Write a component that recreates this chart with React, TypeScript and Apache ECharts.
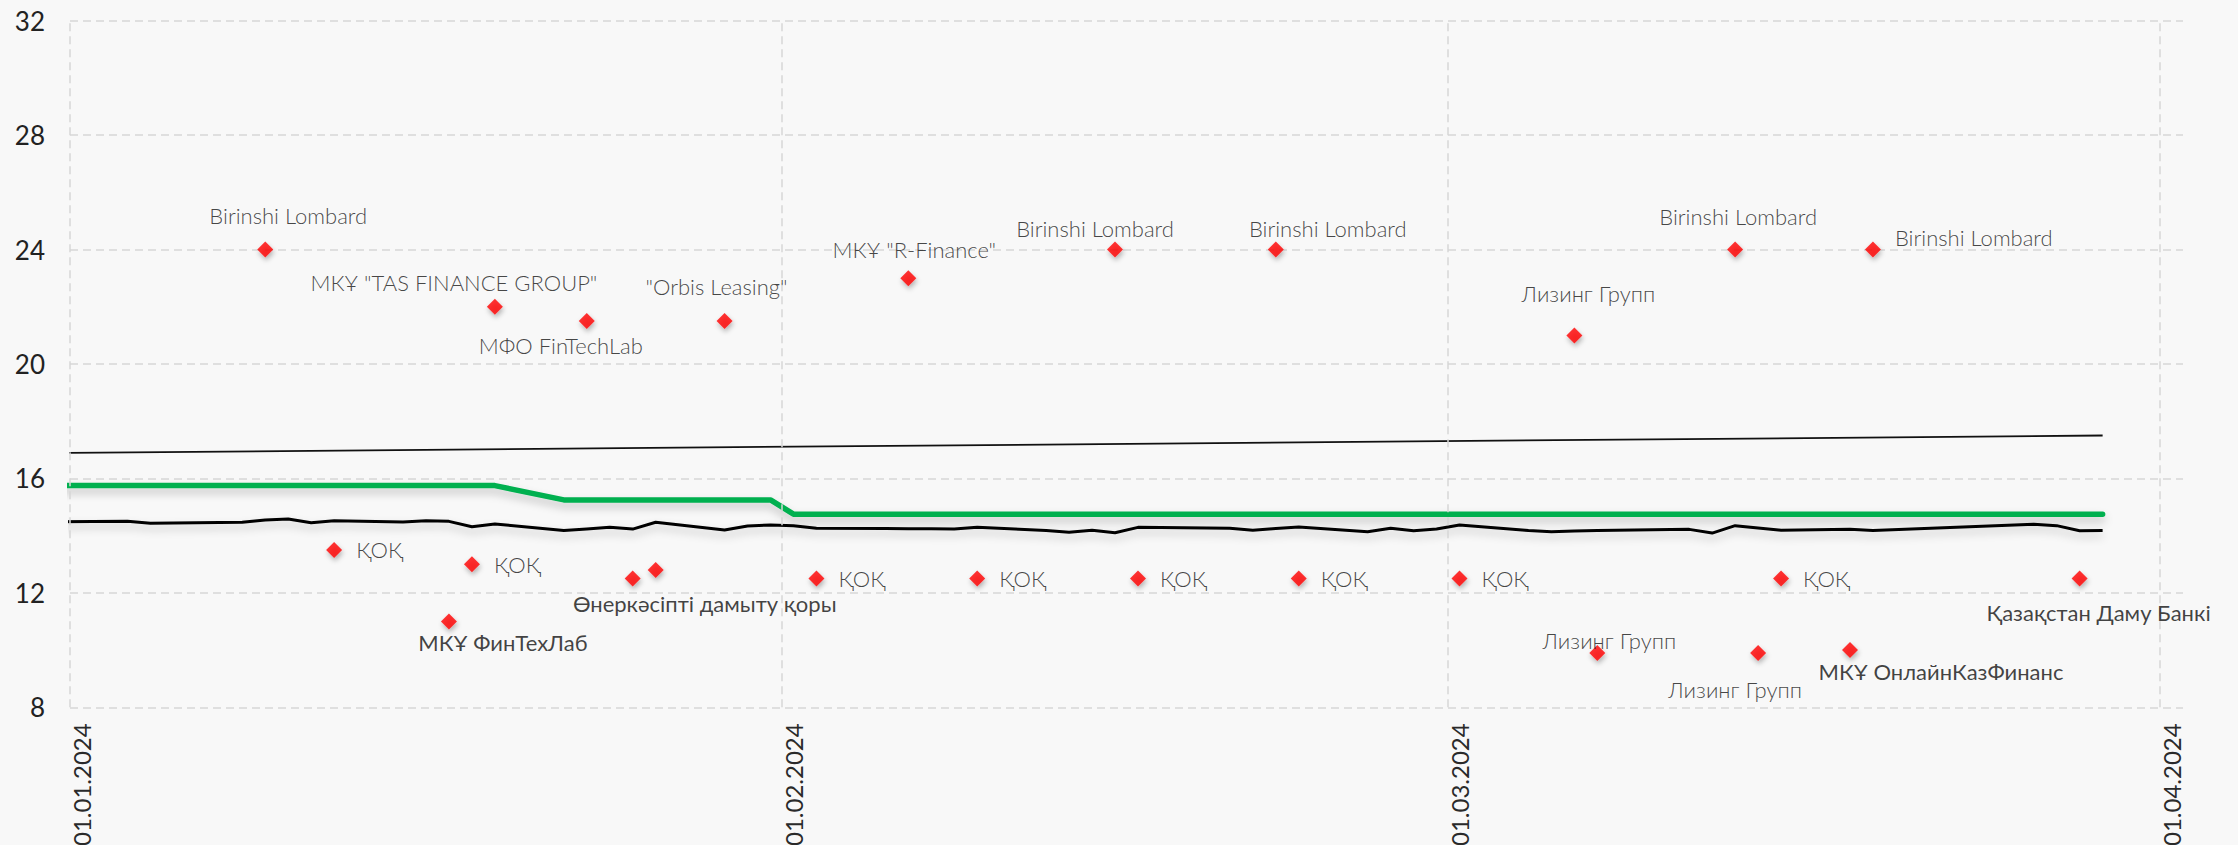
import React, { useEffect, useRef } from "react";
import * as echarts from "echarts";

// ---- axis categories: one per calendar day (31.12.2023 .. 01.04.2024) ----
const DAY = 86400000;
const firstDay = Date.UTC(2023, 11, 31);
const lastDay = Date.UTC(2024, 3, 1);
const axisStart = Date.UTC(2024, 0, 1);
const fmt = (t: number) => {
  const d = new Date(t);
  const dd = String(d.getUTCDate()).padStart(2, "0");
  const mm = String(d.getUTCMonth() + 1).padStart(2, "0");
  return `${dd}.${mm}.${d.getUTCFullYear()}`;
};
const dayCategories: string[] = [];
for (let t = firstDay; t <= lastDay; t += DAY) dayCategories.push(fmt(t));

// month boundaries drawn as vertical grid lines
const monthStarts = [Date.UTC(2024, 0, 1), Date.UTC(2024, 1, 1), Date.UTC(2024, 2, 1), Date.UTC(2024, 3, 1)];

const yTicks = [8, 12, 16, 20, 24, 28, 32];

// ---- thin black line ----
const thinDates = ["31.12.2023", "29.03.2024"];
const thinValues = [16.89, 17.5];

// ---- green line ----
const greenDates = ["31.12.2023", "19.01.2024", "22.01.2024", "31.01.2024", "01.02.2024", "29.03.2024"];
const greenValues = [15.75, 15.75, 15.25, 15.25, 14.75, 14.75];

// ---- black line ----
const blackDates = [
  "31.12.2023", "03.01.2024", "04.01.2024", "05.01.2024", "08.01.2024", "09.01.2024", "10.01.2024",
  "11.01.2024", "12.01.2024", "15.01.2024", "16.01.2024", "17.01.2024", "18.01.2024", "19.01.2024",
  "22.01.2024", "23.01.2024", "24.01.2024", "25.01.2024", "26.01.2024", "29.01.2024", "30.01.2024",
  "31.01.2024", "01.02.2024", "02.02.2024", "05.02.2024", "06.02.2024", "07.02.2024", "08.02.2024",
  "09.02.2024", "12.02.2024", "13.02.2024", "14.02.2024", "15.02.2024", "16.02.2024", "19.02.2024",
  "20.02.2024", "21.02.2024", "22.02.2024", "23.02.2024", "26.02.2024", "27.02.2024", "28.02.2024",
  "29.02.2024", "01.03.2024", "04.03.2024", "05.03.2024", "06.03.2024", "07.03.2024", "11.03.2024",
  "12.03.2024", "13.03.2024", "14.03.2024", "15.03.2024", "18.03.2024", "19.03.2024", "26.03.2024",
  "27.03.2024", "28.03.2024", "29.03.2024",
];
const blackValues = [
  14.49, 14.5, 14.43, 14.44, 14.47, 14.55, 14.58,
  14.45, 14.52, 14.48, 14.52, 14.5, 14.31, 14.41,
  14.18, 14.23, 14.29, 14.23, 14.47, 14.2, 14.34,
  14.37, 14.35, 14.26, 14.25, 14.24, 14.24, 14.23,
  14.29, 14.18, 14.12, 14.19, 14.1, 14.29, 14.27,
  14.26, 14.19, 14.25, 14.3, 14.14, 14.26, 14.17,
  14.23, 14.37, 14.18, 14.14, 14.16, 14.18, 14.22,
  14.09, 14.35, 14.27, 14.19, 14.22, 14.18, 14.4,
  14.35, 14.17, 14.18,
];

// ---- red diamonds ----
const pointDates = [
  "09.01.2024", "12.01.2024", "17.01.2024", "18.01.2024", "19.01.2024", "23.01.2024", "25.01.2024",
  "26.01.2024", "29.01.2024", "02.02.2024", "06.02.2024", "09.02.2024", "15.02.2024", "16.02.2024",
  "22.02.2024", "23.02.2024", "01.03.2024", "06.03.2024", "07.03.2024", "13.03.2024", "14.03.2024",
  "15.03.2024", "18.03.2024", "19.03.2024", "28.03.2024",
];
const pointValues = [
  24, 13.5, 11, 13, 22, 21.5, 12.5,
  12.8, 21.5, 12.5, 23, 12.5, 24, 12.5,
  24, 12.5, 12.5, 21, 9.9, 24, 9.9,
  12.5, 10, 24, 12.5,
];
const pointNames = [
  "Birinshi Lombard", "ҚОҚ", "МКҰ ФинТехЛаб", "ҚОҚ", "МКҰ \"TAS FINANCE GROUP\"", "МФО FinTechLab", "Өнеркәсіпті дамыту қоры",
  "", "\"Orbis Leasing\"", "ҚОҚ", "МКҰ \"R-Finance\"", "ҚОҚ", "Birinshi Lombard", "ҚОҚ",
  "Birinshi Lombard", "ҚОҚ", "ҚОҚ", "Лизинг Групп", "Лизинг Групп", "Birinshi Lombard", "Лизинг Групп",
  "ҚОҚ", "МКҰ ОнлайнКазФинанс", "Birinshi Lombard", "Қазақстан Даму Банкі",
];

// ---- label layout (not data): [mode, dx, dy, dark] ----
const labelLayout: [string, number, number, boolean][] = [
  ["c", 23, -34, false], ["r", 0, 0, false], ["c", 54, 21, true], ["r", 0, 0, false], ["c", -41, -24, false],
  ["c", -26, 24, false], ["c", 72, 25, true], ["n", 0, 0, false], ["c", -8, -35, false], ["r", 0, 0, false],
  ["c", 6, -29, false], ["r", 0, 0, false], ["c", -20, -21, false], ["r", 0, 0, false], ["c", 52, -21, false],
  ["r", 0, 0, false], ["r", 0, 0, false], ["c", 14, -42, false], ["c", 12, -12, false], ["c", 3, -33, false],
  ["c", -23, 37, false], ["r", 0, 0, false], ["c", 91, 21, true], ["r", 0, -12, false], ["c", 19, 34, true],
];

const FONT = "Lato, 'Open Sans', 'Noto Sans', sans-serif";
const GRID_LINE = { color: "#d6d6d6", width: 1.5, type: [8, 5] as number[] };

export default function App() {
  const ref = useRef<HTMLDivElement>(null);
  useEffect(() => {
    if (!ref.current) return;
    const chart = echarts.init(ref.current, null, { renderer: "svg", width: 2238, height: 845 });

    const lineShadow = { shadowColor: "rgba(0,0,0,0.22)", shadowBlur: 8, shadowOffsetY: 5 };

    const scatterData = pointDates.map((d, i) => {
      const [mode, dx, dy, dark] = labelLayout[i];
      const textStyle = {
        color: dark ? "#111" : "#161616",
        fontWeight: dark ? 400 : 300,
        fontSize: 22,
        fontFamily: FONT,
      };
      let label: any;
      if (mode === "n") label = { show: false };
      else if (mode === "r") label = { show: true, position: "right", distance: 14, offset: [0, dy], ...textStyle };
      else label = { show: true, position: "inside", offset: [dx, dy], ...textStyle };
      return { value: [d, pointValues[i]], name: pointNames[i], label };
    });

    const option: any = {
      animation: false,
      backgroundColor: "#f8f8f8",
      grid: { left: 70, right: 55, top: 20.7, bottom: 137.7, containLabel: false, outerBoundsMode: "none" },
      xAxis: [
        {
          type: "category",
          data: dayCategories,
          boundaryGap: true,
          min: 1,
          max: dayCategories.length - 1,
          axisLine: { show: false },
          axisTick: { show: false },
          axisLabel: {
            interval: (_i: number, v: string) => v.startsWith("01."),
            rotate: 90,
            margin: 16,
            color: "#2a2a2a",
            fontSize: 24,
            fontWeight: 400,
            fontFamily: FONT,
          },
          splitLine: { show: false },
        },
        {
          // continuous day scale (days since 01.01.2024) used only for month boundary lines
          type: "value",
          show: false,
          min: 0,
          max: (lastDay + DAY - axisStart) / DAY,
          splitLine: { show: false },
        },
      ],
      yAxis: {
        type: "value",
        min: yTicks[0],
        max: yTicks[yTicks.length - 1],
        interval: yTicks[1] - yTicks[0],
        axisLine: { show: false },
        axisTick: { show: false },
        axisLabel: {
          margin: 25,
          color: "#222",
          fontSize: 26,
          fontWeight: 400,
          fontFamily: FONT,
        },
        splitLine: { show: true, lineStyle: GRID_LINE },
      },
      series: [
        {
          type: "line",
          xAxisIndex: 1,
          data: [],
          silent: true,
          z: 0,
          markLine: {
            silent: true,
            symbol: ["none", "none"],
            label: { show: false },
            lineStyle: GRID_LINE,
            emphasis: { disabled: true },
            data: monthStarts.map((t) => ({ xAxis: (t - axisStart) / DAY })),
          },
        },
        {
          type: "line",
          data: thinDates.map((d, i) => [d, thinValues[i]]),
          showSymbol: false,
          silent: true,
          lineStyle: { color: "#111", width: 1.8 },
        },
        {
          type: "line",
          data: greenDates.map((d, i) => [d, greenValues[i]]),
          showSymbol: false,
          silent: true,
          lineStyle: { color: "#00b050", width: 5.5, cap: "round", join: "round", ...lineShadow },
        },
        {
          type: "line",
          data: blackDates.map((d, i) => [d, blackValues[i]]),
          showSymbol: false,
          silent: true,
          lineStyle: { color: "#000", width: 3, join: "round", ...lineShadow },
        },
        {
          type: "scatter",
          data: scatterData,
          symbol: "diamond",
          symbolSize: 16,
          silent: true,
          itemStyle: {
            color: "#ff0000",
            shadowColor: "rgba(0,0,0,0.35)",
            shadowBlur: 5,
            shadowOffsetX: 1,
            shadowOffsetY: 3,
          },
          label: { formatter: (p: any) => p.name },
          z: 5,
        },
      ],
    };
    chart.setOption(option);
    return () => chart.dispose();
  }, []);

  return (
    <div
      ref={ref}
      style={{ position: "fixed", left: 0, top: 0, width: 2238, height: 845 }}
    />
  );
}
